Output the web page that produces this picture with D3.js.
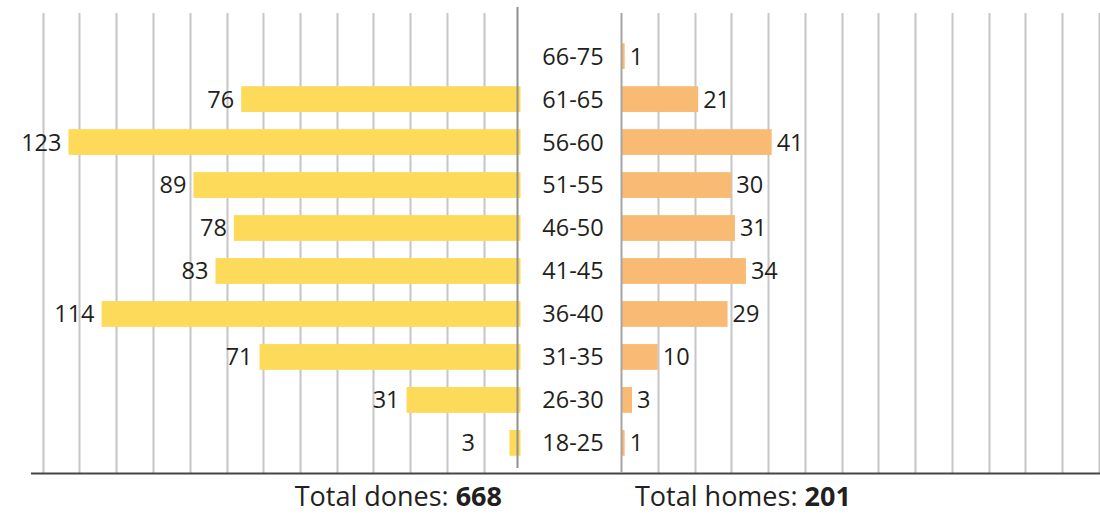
<!DOCTYPE html>
<html>
<head>
<meta charset="utf-8">
<script src="https://cdn.jsdelivr.net/npm/d3@7"></script>
<style>
  body { margin: 0; background: #fff; }
  svg text { font-family: "Open Sans", Roboto, sans-serif; fill: #231f20; }
</style>
</head>
<body>
<div id="chart"></div>
<script>
const ages = ["66-75", "61-65", "56-60", "51-55", "46-50", "41-45", "36-40", "31-35", "26-30", "18-25"];
const dones = [0, 76, 123, 89, 78, 83, 114, 71, 31, 3];
const homes = [1, 21, 41, 30, 31, 34, 29, 10, 3, 1];
const gridTicks = [10, 20, 30, 40, 50, 60, 70, 80, 90, 100, 110, 120, 130];
const totalDones = 668;
const totalHomes = 201;

const width = 1100, height = 514;
const leftZero = 520.5, rightZero = 621;
const pxPerUnit = 3.675;

const svg = d3.select("#chart")
  .append("svg")
  .attr("width", width)
  .attr("height", height);

const y = d3.scaleBand()
  .domain(ages)
  .range([26, 473])
  .padding(0.4);

const xL = d3.scaleLinear()
  .domain([0, 130])
  .range([leftZero, leftZero - 130 * pxPerUnit]);
const xR = d3.scaleLinear()
  .domain([0, 130])
  .range([rightZero, rightZero + 130 * pxPerUnit]);

// gridlines
svg.append("g")
  .selectAll("line")
  .data(gridTicks)
  .join("line")
  .attr("x1", d => Math.round(xL(d)) + 0.5)
  .attr("x2", d => Math.round(xL(d)) + 0.5)
  .attr("y1", 13)
  .attr("y2", 473)
  .attr("stroke", "#c6c6c8")
  .attr("stroke-width", 2);

svg.append("g")
  .selectAll("line")
  .data(gridTicks)
  .join("line")
  .attr("x1", d => Math.round(xR(d)) + 0.5)
  .attr("x2", d => Math.round(xR(d)) + 0.5)
  .attr("y1", 13)
  .attr("y2", 473)
  .attr("stroke", "#c6c6c8")
  .attr("stroke-width", 2);

// baseline
svg.append("line")
  .attr("x1", 31).attr("x2", width)
  .attr("y1", 473.5).attr("y2", 473.5)
  .attr("stroke", "#444")
  .attr("stroke-width", 2);

// bars
svg.append("g")
  .selectAll("rect")
  .data(ages)
  .join("rect")
  .attr("fill", "#fdda5a")
  .attr("x", (d, i) => xL(dones[i]))
  .attr("y", d => y(d))
  .attr("width", (d, i) => xL(0) - xL(dones[i]))
  .attr("height", y.bandwidth());

svg.append("g")
  .selectAll("rect")
  .data(ages)
  .join("rect")
  .attr("fill", "#f9bb73")
  .attr("x", xR(0))
  .attr("y", d => y(d))
  .attr("width", (d, i) => xR(homes[i]) - xR(0))
  .attr("height", y.bandwidth());

// centre lines
svg.append("line")
  .attr("x1", 517.5).attr("x2", 517.5)
  .attr("y1", 7).attr("y2", 468)
  .attr("stroke", "#909092")
  .attr("stroke-width", 2);
svg.append("line")
  .attr("x1", 621.5).attr("x2", 621.5)
  .attr("y1", 13).attr("y2", 473)
  .attr("stroke", "#a5a5a7")
  .attr("stroke-width", 2);

// value labels (short bars keep their label a bit away from the axis)
svg.append("g")
  .selectAll("text")
  .data(ages.filter((d, i) => dones[i] > 0))
  .join("text")
  .attr("x", d => Math.min(xL(dones[ages.indexOf(d)]) - 7, 475))
  .attr("y", d => y(d) + y.bandwidth() / 2)
  .attr("dy", "0.36em")
  .attr("text-anchor", "end")
  .style("font-size", "23.5px")
  .text(d => dones[ages.indexOf(d)]);

svg.append("g")
  .selectAll("text")
  .data(ages)
  .join("text")
  .attr("x", (d, i) => xR(homes[i]) + 5)
  .attr("y", d => y(d) + y.bandwidth() / 2)
  .attr("dy", "0.36em")
  .attr("text-anchor", "start")
  .style("font-size", "23.5px")
  .text((d, i) => homes[i]);

// category labels
svg.append("g")
  .selectAll("text")
  .data(ages)
  .join("text")
  .attr("x", 573)
  .attr("y", d => y(d) + y.bandwidth() / 2)
  .attr("dy", "0.36em")
  .attr("text-anchor", "middle")
  .style("font-size", "23.5px")
  .text(d => d);

// totals
const tL = svg.append("text")
  .attr("x", 502).attr("y", 506)
  .attr("text-anchor", "end")
  .style("font-size", "27px");
tL.append("tspan").text("Total dones: ");
tL.append("tspan").style("font-weight", "bold").text(totalDones);

const tR = svg.append("text")
  .attr("x", 635).attr("y", 506)
  .attr("text-anchor", "start")
  .style("font-size", "27px");
tR.append("tspan").text("Total homes: ");
tR.append("tspan").style("font-weight", "bold").text(totalHomes);
</script>
</body>
</html>
